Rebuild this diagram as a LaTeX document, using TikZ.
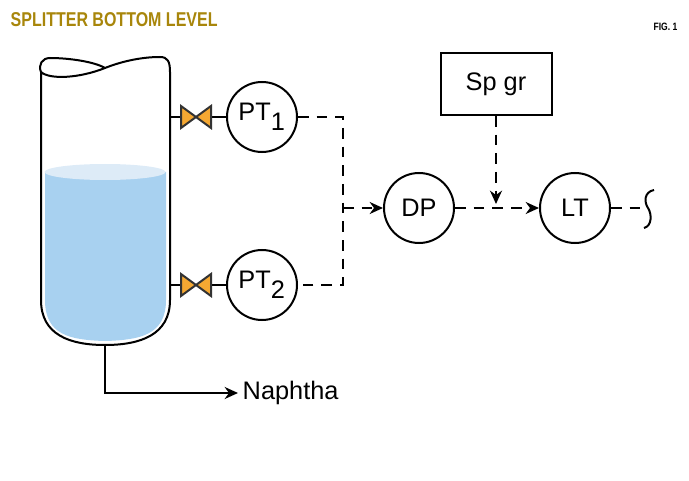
\documentclass[tikz,border=0pt]{standalone}
\usepackage{fontspec}
\setmainfont{Liberation Sans}
\usetikzlibrary{arrows.meta}
\definecolor{gold}{HTML}{A8860B}
\definecolor{liq}{HTML}{A8D1F0}
\definecolor{liqtop}{HTML}{DDEBF7}
\definecolor{valve}{HTML}{F5A832}
\begin{document}
\begin{tikzpicture}[x=0.75pt,y=-0.75pt,
  inst/.style={draw,circle,line width=1.5pt,minimum size=70*0.75pt,inner sep=0pt,font=\fontsize{19}{20}\selectfont},
  sig/.style={dashed,dash pattern=on 8pt off 6pt,line width=1.5pt},
  arr/.style={-{Stealth[length=10pt,width=9pt]}},
  pipe/.style={line width=1.5pt},
  vlv/.style={draw=black!80,fill=valve,line width=1.5pt,line join=miter}]
\useasboundingbox (0,0) rectangle (689,481);
\node[anchor=west,text=gold,font=\bfseries\fontsize{15}{16}\selectfont] (title) at (6,20) {\scalebox{0.8}[1]{SPLITTER BOTTOM LEVEL}};
\node[anchor=east,font=\bfseries\fontsize{8}{9}\selectfont] (fig) at (682,27) {\scalebox{0.8}[1]{FIG. 1}};
% liquid
\fill[liq] (45,172) -- (166,172) -- (166,300) .. controls (166,335) and (140,340) .. (105,341) .. controls (70,340) and (45,335) .. (45,300) -- cycle;
\fill[liqtop] (105,172) ellipse [x radius=60.5, y radius=8];
% vessel
\draw[pipe] (41,72) -- (41,300) .. controls (41,335) and (70,345) .. (105,345) .. controls (140,345) and (170,335) .. (170,300) -- (170,72)
  .. controls (170,62) and (168,57) .. (160,57) .. controls (140,57) and (120,62) .. (105,68) .. controls (80,78) and (50,80) .. (41,72) .. controls (38,65) and (42,58) .. (50,58) .. controls (70,58) and (95,62) .. (105,68);
% valves and PT
\node[inst] (pt1) at (262,117) {PT$_{\textrm{1}}$};
\node[inst] (pt2) at (262,285) {PT$_{\textrm{2}}$};
\foreach \y/\n in {117/a,285/b}{
  \coordinate (v\n) at (196,\y);
  \draw[pipe] (170,\y) -- (181,\y) (211,\y) -- (227,\y);
  \draw[vlv] (181,\y-11) -- (211,\y+11) -- (211,\y-11) -- (181,\y+11) -- cycle;
}
\node[inst] (dp) at (419,208) {DP};
\node[inst] (lt) at (575,208) {LT};
\node[draw,line width=1.5pt,minimum width=111*0.75pt,minimum height=62*0.75pt,font=\fontsize{19}{20}\selectfont] (sp) at (496,84) {Sp gr};
\coordinate (j) at (343,208);
\draw[sig] (pt1.east) -- (343,117) -- (343,285) -- (pt2.east);
\draw[sig,arr] (j) -- (dp.west);
\draw[sig,arr] (dp.east) -- (lt.west);
\draw[sig,arr] (sp.south) -- (496,204);
\coordinate (e) at (640,208);
\draw[sig] (lt.east) -- (e);
\draw[pipe] (654,190) .. controls (644,192) and (644,202) .. (648,208) .. controls (652,214) and (652,226) .. (644,228);
% naphtha
\node[anchor=west,font=\fontsize{19}{20}\selectfont] (nap) at (238,393) {Naphtha};
\draw[pipe,arr] (105,345) -- (105,393) -- (nap.west);
\end{tikzpicture}
\end{document}
